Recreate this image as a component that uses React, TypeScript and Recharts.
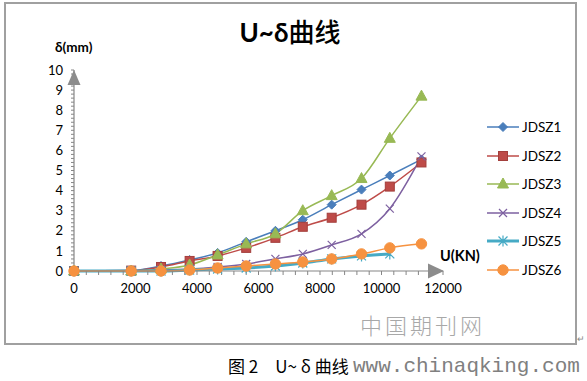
import React from "react"
import { LineChart, Line, XAxis, YAxis, ReferenceDot } from "recharts"

// load steps (KN)
const loads = [0, 1860, 2830, 3760, 4670, 5600, 6550, 7440, 8380, 9350, 10270, 11300]

// displacement δ (mm) per specimen
const jdsz1 = [0, 0.02, 0.25, 0.55, 0.9, 1.45, 2.0, 2.55, 3.3, 4.05, 4.75, 5.55]
const jdsz2 = [0, 0.02, 0.2, 0.5, 0.75, 1.15, 1.65, 2.2, 2.65, 3.3, 4.2, 5.4]
const jdsz3 = [0, 0, 0.1, 0.3, 0.8, 1.35, 1.85, 3.0, 3.75, 4.6, 6.6, 8.7]
const jdsz4 = [0, 0, 0.05, 0.1, 0.2, 0.35, 0.6, 0.85, 1.3, 1.85, 3.1, 5.7]
const jdsz5 = [0, 0, 0, 0.05, 0.1, 0.15, 0.25, 0.4, 0.6, 0.75, 0.85, null]
const jdsz6 = [0, 0, 0, 0.05, 0.15, 0.25, 0.35, 0.45, 0.6, 0.85, 1.15, 1.35]

const xMajor = [0, 2000, 4000, 6000, 8000, 10000, 12000]
const yMajor = [0, 1, 2, 3, 4, 5, 6, 7, 8, 9, 10]
const xTicks = Array.from({ length: 31 }, (_, i) => i * 400)
const yTicks = Array.from({ length: 51 }, (_, i) => i / 5)

const FONT = "Lato, 'Noto Sans CJK SC', sans-serif"
const AXIS = "#868686"

type Kind = "diamond" | "square" | "triangle" | "cross" | "star" | "circle"

const series: { key: string; name: string; values: (number | null)[]; color: string; kind: Kind; width: number }[] = [
  { key: "s1", name: "JDSZ1", values: jdsz1, color: "#4a7ebb", kind: "diamond", width: 1.5 },
  { key: "s2", name: "JDSZ2", values: jdsz2, color: "#be4b48", kind: "square", width: 1.5 },
  { key: "s3", name: "JDSZ3", values: jdsz3, color: "#98b954", kind: "triangle", width: 1.5 },
  { key: "s4", name: "JDSZ4", values: jdsz4, color: "#7d60a0", kind: "cross", width: 1.5 },
  { key: "s5", name: "JDSZ5", values: jdsz5, color: "#46aac5", kind: "star", width: 3 },
  { key: "s6", name: "JDSZ6", values: jdsz6, color: "#f69240", kind: "circle", width: 1.5 },
]

const data = loads.map((u, i) => {
  const row: Record<string, number | null> = { u }
  series.forEach((s) => (row[s.key] = s.values[i]))
  return row
})

function Marker({ kind, color, cx, cy }: { kind: Kind; color: string; cx: number; cy: number }) {
  switch (kind) {
    case "diamond":
      return <path d={`M${cx},${cy - 4.5}L${cx + 4.5},${cy}L${cx},${cy + 4.5}L${cx - 4.5},${cy}Z`} fill={color} stroke={color} />
    case "square":
      return <rect x={cx - 4.5} y={cy - 4.5} width={9} height={9} fill={color} stroke="#a33f3c" strokeWidth={1} />
    case "triangle":
      return <path d={`M${cx},${cy - 6}L${cx + 5.5},${cy + 4}L${cx - 5.5},${cy + 4}Z`} fill={color} stroke={color} />
    case "cross":
      return (
        <path d={`M${cx - 4},${cy - 4}L${cx + 4},${cy + 4}M${cx + 4},${cy - 4}L${cx - 4},${cy + 4}`} stroke={color} strokeWidth={1.2} />
      )
    case "star":
      return (
        <path
          d={`M${cx - 4.5},${cy - 4.5}L${cx + 4.5},${cy + 4.5}M${cx + 4.5},${cy - 4.5}L${cx - 4.5},${cy + 4.5}M${cx},${cy - 5.5}L${cx},${cy + 5.5}`}
          stroke={color}
          strokeWidth={1.2}
        />
      )
    default:
      return <circle cx={cx} cy={cy} r={5.2} fill={color} stroke={color} />
  }
}

const abs = (s: React.CSSProperties): React.CSSProperties => ({ position: "absolute", whiteSpace: "nowrap", ...s })

export default function App() {
  return (
    <div style={{ position: "fixed", left: 0, top: 0, width: 587, height: 381, background: "#fff", overflow: "hidden" }}>
      <div style={abs({ left: 4, top: 2, width: 569, height: 339, border: "2px solid #a0a0a0" })} />

      <div style={abs({ left: 0, width: 580, top: 15, textAlign: "center", fontFamily: FONT, fontWeight: 700, fontSize: 26, lineHeight: "34px" })}>
        U~δ<span style={{ fontWeight: 500 }}>曲线</span>
      </div>
      <div style={abs({ left: 55, top: 39, fontFamily: FONT, fontWeight: 700, fontSize: 13.5 })}>δ(mm)</div>
      <div style={abs({ left: 440, top: 247, fontFamily: FONT, fontWeight: 700, fontSize: 14.5 })}>U(KN)</div>

      <div style={{ position: "absolute", left: 0, top: 0 }}>
        <LineChart width={587} height={381} data={data} margin={{ top: 70, right: 144, bottom: 80, left: 14 }}>
          <XAxis
            dataKey="u"
            type="number"
            domain={[0, 12000]}
            ticks={xTicks}
            interval={0}
            height={30}
            tickSize={4}
            tickMargin={9}
            tickFormatter={(v: number) => (xMajor.includes(v) ? String(v) : "")}
            tick={{ fontSize: 13, fill: "#000", fontFamily: FONT }}
            axisLine={{ stroke: AXIS, strokeWidth: 1.2 }}
            tickLine={{ stroke: AXIS }}
          />
          <YAxis
            type="number"
            domain={[0, 10]}
            ticks={yTicks}
            interval={0}
            width={60}
            tickSize={3}
            tickMargin={8}
            tickFormatter={(v: number) => (yMajor.includes(v) ? String(v) : "")}
            tick={{ fontSize: 13, fill: "#000", fontFamily: FONT }}
            axisLine={{ stroke: AXIS, strokeWidth: 1.2 }}
            tickLine={{ stroke: AXIS }}
          />
          {series.map((s) => (
            <Line
              key={s.key}
              dataKey={s.key}
              name={s.name}
              type="monotone"
              stroke={s.color}
              strokeWidth={s.width}
              isAnimationActive={false}
              dot={(p: any) =>
                p.cx == null || p.cy == null || p.value == null ? (
                  <g key={`${s.key}-${p.index}`} />
                ) : (
                  <g key={`${s.key}-${p.index}`}>
                    <Marker kind={s.kind} color={s.color} cx={p.cx} cy={p.cy} />
                  </g>
                )
              }
              activeDot={false}
            />
          ))}
          <ReferenceDot
            x={12000}
            y={0}
            ifOverflow="visible"
            shape={(p: any) => <path d={`M${p.cx + 1},${p.cy}L${p.cx - 15},${p.cy - 7.5}L${p.cx - 15},${p.cy + 7.5}Z`} fill="#8c8c8c" />}
          />
          <ReferenceDot
            x={0}
            y={10}
            ifOverflow="visible"
            shape={(p: any) => <path d={`M${p.cx},${p.cy}L${p.cx + 6.5},${p.cy + 15}L${p.cx - 6.5},${p.cy + 15}Z`} fill="#8c8c8c" />}
          />
        </LineChart>
      </div>

      {series.map((s, i) => (
        <div key={s.key} style={abs({ left: 487, top: 127 + i * 28.6 - 10, height: 20, width: 90 })}>
          <svg width={32} height={20} style={{ position: "absolute", left: 0, top: 0 }}>
            <line x1={0} y1={10} x2={32} y2={10} stroke={s.color} strokeWidth={s.width} />
            <Marker kind={s.kind} color={s.color} cx={16} cy={10} />
          </svg>
          <span style={abs({ left: 35, top: 1, fontFamily: FONT, fontSize: 13.5, lineHeight: "18px" })}>{s.name}</span>
        </div>
      ))}

      <div style={abs({ left: 360, top: 308, fontFamily: "'Noto Sans CJK SC'", fontWeight: 200, fontSize: 22, color: "#a8a8a8", letterSpacing: 3 })}>
        中国期刊网
      </div>
      <div style={abs({ left: 577, top: 334, fontSize: 9, color: "#888" })}>↵</div>

      <div style={abs({ left: 228, top: 355, fontFamily: "'Noto Sans CJK SC'", fontSize: 17, color: "#000", lineHeight: "22px" })}>
        图 2　U~ δ 曲线
      </div>
      <div style={abs({ left: 353, top: 354, fontFamily: "'Liberation Mono', monospace", fontSize: 21, color: "#808080", lineHeight: "26px" })}>
        www.chinaqking.com
      </div>
    </div>
  )
}
